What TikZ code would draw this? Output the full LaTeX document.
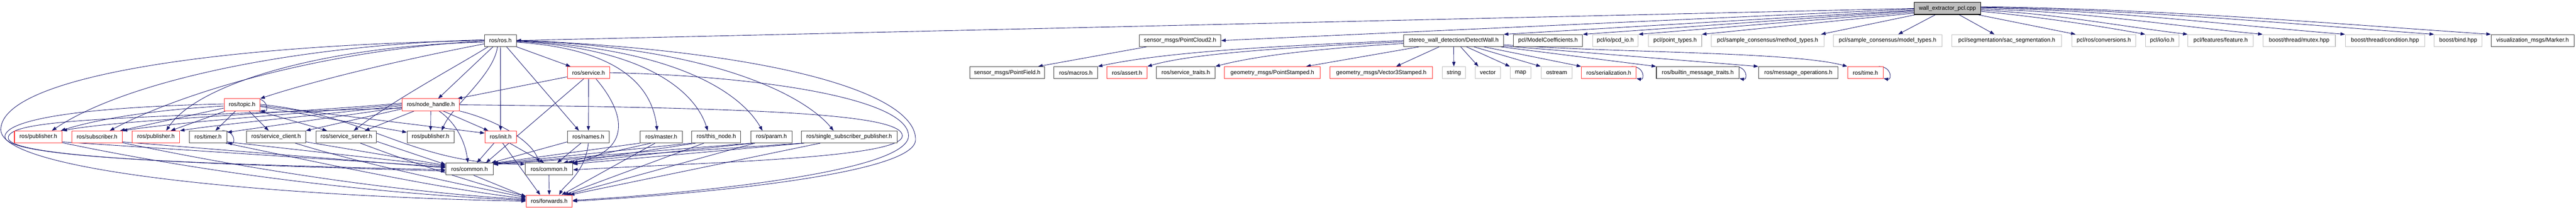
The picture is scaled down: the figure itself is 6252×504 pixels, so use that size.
\documentclass[tikz,border=0pt]{standalone}
\usepackage{fontspec}
\setmainfont{Liberation Sans}
\usetikzlibrary{arrows.meta}
\definecolor{edgec}{HTML}{191970}
\definecolor{redc}{HTML}{FF3030}
\definecolor{darkc}{HTML}{404040}
\definecolor{greyc}{HTML}{BFBFBF}
\definecolor{rootfill}{HTML}{BFBFBF}
\pgfdeclarelayer{background}
\pgfsetlayers{background,main}
\begin{document}
\begin{tikzpicture}[x=1pt,y=1pt,
  box/.style={draw, line width=1.3pt, fill=white, minimum height=29pt, inner xsep=2pt, inner ysep=0pt, font=\fontsize{14pt}{16pt}\selectfont, anchor=center},
  rb/.style={box, draw=redc},
  kb/.style={box, draw=darkc},
  gb/.style={box, draw=greyc},
  rootb/.style={box, draw=black, fill=rootfill},
  e/.style={draw=edgec, line width=1.1pt, -{Triangle[length=11pt,width=8pt]}}]
\useasboundingbox (0,0) rectangle (6252,-504);
% ---------- row 1
\node[rootb, minimum width=161pt] (W) at (4726.5,-20.5) {wall\_extractor\_pcl.cpp};
% ---------- row 2
\node[kb, minimum width=77pt]  (R)      at (1214.5,-98.5) {ros/ros.h};
\node[kb, minimum width=198pt] (pc2)    at (2864,-98.5)   {sensor\_msgs/PointCloud2.h};
\node[kb, minimum width=242pt] (dw)     at (3528,-98.5)   {stereo\_wall\_detection/DetectWall.h};
\node[kb, minimum width=168pt] (mc)     at (3757,-98.5)   {pcl/ModelCoefficients.h};
\node[gb, minimum width=111pt] (pcd)    at (3920.5,-98.5) {pcl/io/pcd\_io.h};
\node[gb, minimum width=129pt] (pt)     at (4065.5,-98.5) {pcl/point\_types.h};
\node[gb, minimum width=274pt] (mt)     at (4290,-98.5)   {pcl/sample\_consensus/method\_types.h};
\node[gb, minimum width=264pt] (modt)   at (4581,-98.5)   {pcl/sample\_consensus/model\_types.h};
\node[gb, minimum width=267pt] (sac)    at (4870.5,-98.5) {pcl/segmentation/sac\_segmentation.h};
\node[gb, minimum width=156pt] (conv)   at (5106,-98.5)   {pcl/ros/conversions.h};
\node[gb, minimum width=81pt]  (io)     at (5247.5,-98.5) {pcl/io/io.h};
\node[gb, minimum width=159pt] (feat)   at (5389.5,-98.5) {pcl/features/feature.h};
\node[gb, minimum width=176pt] (mutex)  at (5580,-98.5)   {boost/thread/mutex.hpp};
\node[gb, minimum width=193pt] (cond)   at (5788.5,-98.5) {boost/thread/condition.hpp};
\node[gb, minimum width=116pt] (bind)   at (5966,-98.5)   {boost/bind.hpp};
\node[kb, minimum width=201pt] (marker) at (6146.5,-98.5) {visualization\_msgs/Marker.h};
% ---------- row 3
\node[rb, minimum width=103pt] (svc)     at (1428.5,-176.5) {ros/service.h};
\node[kb, minimum width=181pt] (pf)      at (2444.5,-176.5) {sensor\_msgs/PointField.h};
\node[kb, minimum width=106pt] (macros)  at (2611,-176.5)   {ros/macros.h};
\node[rb, minimum width=97pt]  (assert)  at (2735.5,-176.5) {ros/assert.h};
\node[kb, minimum width=142pt] (straits) at (2878,-176.5)   {ros/service\_traits.h};
\node[rb, minimum width=232pt] (pst)     at (3088,-176.5)   {geometry\_msgs/PointStamped.h};
\node[rb, minimum width=249pt] (v3s)     at (3352.5,-176.5) {geometry\_msgs/Vector3Stamped.h};
\node[gb, minimum width=57pt]  (string)  at (3528.5,-176.5) {string};
\node[gb, minimum width=62pt]  (vector)  at (3611,-176.5)   {vector};
\node[gb, minimum width=51pt]  (map)     at (3690.5,-176.5) {map};
\node[gb, minimum width=76pt]  (ostream) at (3778,-176.5)   {ostream};
\node[rb, minimum width=133pt] (ser)     at (3904.5,-176.5) {ros/serialization.h};
\node[kb, minimum width=201pt] (bmt)     at (4120.5,-176.5) {ros/builtin\_message\_traits.h};
\node[kb, minimum width=193pt] (mops)    at (4364.5,-176.5) {ros/message\_operations.h};
\node[rb, minimum width=87pt]  (time)    at (4527.5,-176.5) {ros/time.h};
% ---------- row 4
\node[rb, minimum width=87pt]  (topic) at (587.5,-254.5)  {ros/topic.h};
\node[rb, minimum width=139pt] (nh)    at (1045.5,-254.5) {ros/node\_handle.h};
% ---------- row 5
\node[rb, minimum width=116pt] (pub1)     at (93,-332.5)     {ros/publisher.h};
\node[rb, minimum width=123pt] (sub)      at (235.5,-332.5)  {ros/subscriber.h};
\node[rb, minimum width=115pt] (pub2)     at (378.5,-332.5)  {ros/publisher.h};
\node[kb, minimum width=92pt]  (timer)    at (505,-332.5)    {ros/timer.h};
\node[kb, minimum width=144pt] (sc)       at (670,-332.5)    {ros/service\_client.h};
\node[kb, minimum width=147pt] (ss)       at (840.5,-332.5)  {ros/service\_server.h};
\node[kb, minimum width=114pt] (pub3)     at (1045,-332.5)   {ros/publisher.h};
\node[rb, minimum width=76pt]  (init)     at (1215,-332.5)   {ros/init.h};
\node[kb, minimum width=102pt] (names)    at (1428,-332.5)   {ros/names.h};
\node[kb, minimum width=102pt] (master)   at (1605,-332.5)   {ros/master.h};
\node[kb, minimum width=119pt] (thisnode) at (1738.5,-332.5) {ros/this\_node.h};
\node[kb, minimum width=99pt]  (param)    at (1872.5,-332.5) {ros/param.h};
\node[kb, minimum width=232pt] (ssp)      at (2061,-332.5)   {ros/single\_subscriber\_publisher.h};
% ---------- row 6 / 7
\node[kb, minimum width=115pt] (com1) at (1139.5,-410.5) {ros/common.h};
\node[kb, minimum width=115pt] (com2) at (1332.5,-410.5) {ros/common.h};
\node[rb, minimum width=112pt] (fwd)  at (1333,-488.5)   {ros/forwards.h};

\begin{pgfonlayer}{background}
\fill[white] (0,0) rectangle (6252,-504);
% ---------- root
\draw[e] (W.west) -- (R.east);
\draw[e] (W.181) -- (pc2.east);
\draw[e] (W.183) -- (dw.north east);
\draw[e] (W.184) -- (mc.north east);
\draw[e] (W.186) -- (pcd.north east);
\draw[e] (W.188) -- (pt.north east);
\draw[e] ([xshift=4pt]W.south west) -- ([xshift=-8pt]mt.north east);
\draw[e] ([xshift=-29pt]W.south) -- ([xshift=26pt]modt.north);
\draw[e] ([xshift=28pt]W.south) -- ([xshift=-30pt]sac.north);
\draw[e] ([xshift=-8pt]W.south east) -- ([xshift=10pt]conv.north west);
\draw[e] (W.-5) .. controls +(130,-12) and +(-120,22) .. (io.north west);
\draw[e] (W.-3) .. controls +(180,-8) and +(-180,22) .. (feat.north west);
\draw[e] (W.-1) .. controls +(250,-6) and +(-250,24) .. (mutex.north west);
\draw[e] (W.1) .. controls +(320,-6) and +(-320,26) .. (cond.north west);
\draw[e] (W.2) .. controls +(380,-6) and +(-380,28) .. (bind.north west);
\draw[e] (W.3) .. controls +(440,-6) and +(-440,30) .. (marker.north west);
% ---------- PointCloud2 / DetectWall
\draw[e] ([xshift=-81pt]pc2.south) -- ([xshift=75pt]pf.north);
\draw[e] (dw.west) .. controls (3150,-110) and (2850,-122) .. (macros.north east);
\draw[e] ([yshift=-3pt]dw.west) .. controls (3150,-114) and (2900,-128) .. (assert.north east);
\draw[e] ([yshift=-7pt]dw.west) .. controls (3200,-118) and (3050,-135) .. (straits.north east);
\draw[e] ([xshift=38pt]dw.south west) -- ([xshift=82pt]pst.north);
\draw[e] ([xshift=-35pt]dw.south) -- ([xshift=36pt]v3s.north);
\draw[e] (dw.south) -- (string.north);
\draw[e] ([xshift=17pt]dw.south) -- ([xshift=-23pt]vector.north);
\draw[e] ([xshift=31pt]dw.south) -- (map.north west);
\draw[e] ([xshift=49pt]dw.south) -- (ostream.north west);
\draw[e] ([xshift=73pt]dw.south) -- (ser.north west);
\draw[e] ([xshift=-8pt]dw.south east) -- (bmt.north west);
\draw[e] ([yshift=2pt]dw.south east) -- (mops.north west);
\draw[e] ([yshift=5pt]dw.south east) .. controls (3900,-128) and (4350,-125) .. (time.north west);
% self loops
\draw[e] ([xshift=-12pt]ser.north east) .. controls +(32,0) and +(20,-4) .. ([yshift=1pt]ser.south east);
\draw[e] ([xshift=-12pt]bmt.north east) .. controls +(32,0) and +(20,-4) .. ([yshift=1pt]bmt.south east);
\draw[e] ([xshift=-12pt]time.north east) .. controls +(32,0) and +(20,-4) .. ([yshift=1pt]time.south east);
\draw[e] ([xshift=-12pt]topic.north east) .. controls +(32,0) and +(20,-4) .. ([yshift=1pt]topic.south east);
\draw[e] ([xshift=-12pt]timer.north east) .. controls +(32,0) and +(20,-4) .. ([yshift=1pt]timer.south east);
% ---------- ros/ros.h
\draw[e] (R.west) .. controls (500,-110) and (2,-190) .. (2,-315) .. controls (2,-420) and (700,-478) .. (fwd.west);
\draw[e] ([yshift=2pt]R.west) .. controls (700,-110) and (300,-200) .. ([xshift=33pt]pub1.north);
\draw[e] ([yshift=-1pt]R.west) .. controls (800,-120) and (450,-220) .. ([xshift=31pt]sub.north);
\draw[e] ([yshift=-4pt]R.west) .. controls (800,-110) and (480,-200) .. ([xshift=25pt]pub2.north);
\draw[e] ([yshift=-8pt]R.west) .. controls (950,-150) and (750,-200) .. (topic.north east);
\draw[e] ([xshift=-30pt]R.south) .. controls (1110,-160) and (960,-240) .. ([xshift=18pt]ss.north);
\draw[e] ([xshift=-18pt]R.south) -- ([xshift=18pt]nh.north);
\draw[e] ([xshift=-7pt]R.south) .. controls +(-10,-70) and +(25,60) .. ([xshift=27pt]pub3.north);
\draw[e] (R.south) -- (init.north);
\draw[e] ([xshift=15pt]R.south) -- ([xshift=-23pt]names.north);
\draw[e] (R.south east) -- ([xshift=-44pt]svc.north);
\draw[e] ([yshift=-4pt]R.east) .. controls (1530,-120) and (1585,-230) .. ([xshift=-10pt]master.north);
\draw[e] ([yshift=-2pt]R.east) .. controls (1580,-118) and (1690,-230) .. ([xshift=-21pt]thisnode.north);
\draw[e] ([yshift=-1pt]R.east) .. controls (1650,-118) and (1800,-230) .. ([xshift=-22pt]param.north);
\draw[e] (R.east) .. controls (1750,-115) and (1960,-240) .. ([xshift=-38pt]ssp.north);
\draw[e] ([yshift=1pt]R.east) .. controls (1900,-125) and (2225,-230) .. (2222,-340) .. controls (2220,-430) and (1600,-478) .. (fwd.east);
% ---------- ros/service.h
\draw[e] ([yshift=5pt]svc.south west) -- ([xshift=65pt]nh.north);
\draw[e] ([xshift=-12pt]svc.south) -- ([xshift=40pt]com1.north);
\draw[e] (svc.south) -- (names.north);
\draw[e] ([xshift=18pt]svc.south) .. controls (1530,-290) and (1520,-370) .. (com2.north east);
\draw[e] (svc.east) .. controls (1850,-185) and (2205,-240) .. (2205,-330) .. controls (2205,-420) and (1650,-472) .. ([yshift=2pt]fwd.east);
% ---------- ros/node_handle.h
\draw[e] ([yshift=4pt]nh.west) .. controls (700,-275) and (300,-290) .. (pub1.north east);
\draw[e] ([yshift=1pt]nh.west) .. controls (700,-278) and (450,-295) .. (sub.north east);
\draw[e] ([yshift=-2pt]nh.west) .. controls (750,-282) and (550,-300) .. (pub2.north east);
\draw[e] ([yshift=-6pt]nh.west) -- ([yshift=-4pt]timer.north east);
\draw[e] ([yshift=-10pt]nh.west) -- (sc.north east);
\draw[e] ([xshift=30pt]nh.south west) -- ([xshift=45pt]ss.north);
\draw[e] (nh.south) -- (pub3.north);
\draw[e] ([xshift=30pt]nh.south) -- ([xshift=-30pt]init.north);
\draw[e] ([xshift=20pt]nh.south) .. controls (1110,-300) and (1130,-350) .. ([xshift=-4pt]com1.north);
\draw[e] (nh.south east) .. controls (1200,-290) and (1290,-340) .. ([xshift=-24pt]com2.north);
\draw[e] (nh.east) .. controls (1900,-262) and (2190,-280) .. (2190,-330) .. controls (2190,-385) and (1700,-395) .. ([yshift=-2pt]com2.east);
\draw[e] ([yshift=-8pt]nh.west) .. controls (250,-285) and (20,-292) .. (20,-335) .. controls (20,-385) and (550,-400) .. ([yshift=-5pt]com1.west);
% ---------- ros/topic.h
\draw[e] ([yshift=-3pt]topic.west) .. controls (400,-265) and (250,-285) .. ([xshift=-4pt]pub1.north east);
\draw[e] ([yshift=-8pt]topic.west) -- ([xshift=-6pt]sub.north east);
\draw[e] ([xshift=4pt]topic.south west) -- ([xshift=36pt]pub2.north);
\draw[e] ([xshift=-16pt]topic.south) -- ([xshift=18pt]timer.north);
\draw[e] ([xshift=17pt]topic.south) -- ([xshift=-18pt]sc.north);
\draw[e] ([xshift=-4pt]topic.south east) -- ([xshift=-47pt]ss.north);
\draw[e] ([yshift=-4pt]topic.east) -- ([yshift=-4pt]pub3.north west);
\draw[e] ([yshift=-2pt]topic.east) -- ([yshift=-6pt]init.north west);
\draw[e] ([yshift=1pt]topic.east) .. controls (900,-280) and (1000,-400) .. ([yshift=-3pt]com2.north west);
\draw[e] ([yshift=2pt]topic.west) .. controls (200,-260) and (12,-290) .. (12,-332) .. controls (12,-385) and (500,-398) .. ([yshift=-2pt]com1.west);
% ---------- row 5 -> common / forwards
\draw[e] ([yshift=3pt]pub1.south east) -- ([yshift=5pt]com1.west);
\draw[e] ([yshift=1pt]pub1.south east) .. controls (500,-420) and (900,-470) .. ([yshift=2pt]fwd.west);
\draw[e] ([yshift=3pt]sub.south east) -- ([yshift=3pt]com1.west);
\draw[e] ([yshift=1pt]sub.south east) .. controls (600,-410) and (950,-465) .. ([yshift=4pt]fwd.west);
\draw[e] ([yshift=3pt]timer.south east) -- ([yshift=7pt]com1.west);
\draw[e] ([xshift=-4pt]timer.south east) .. controls (800,-400) and (1050,-455) .. ([yshift=6pt]fwd.west);
\draw[e] ([yshift=3pt]sc.south east) -- ([yshift=9pt]com1.west);
\draw[e] ([xshift=-26pt]sc.south east) .. controls (850,-390) and (1100,-445) .. ([yshift=9pt]fwd.west);
\draw[e] ([yshift=4pt]ss.south east) -- ([yshift=11pt]com1.west);
\draw[e] ([xshift=-40pt]ss.south east) .. controls (1000,-395) and (1150,-445) .. ([yshift=12pt]fwd.west);
\draw[e] ([xshift=-16pt]init.south) -- ([xshift=18pt]com1.north);
\draw[e] ([xshift=22pt]init.south) -- ([xshift=-12pt]com2.north);
\draw[e] ([xshift=5pt]init.south) -- ([xshift=-22pt]fwd.north);
\draw[e] ([yshift=3pt]names.south west) -- ([xshift=-5pt]com1.north east);
\draw[e] ([xshift=-18pt]names.south) -- ([xshift=20pt]com2.north);
\draw[e] (names.south) .. controls (1420,-420) and (1370,-450) .. ([xshift=24pt]fwd.north);
\draw[e] (master.south west) -- ([yshift=-1pt]com1.north east);
\draw[e] ([xshift=-25pt]master.south) -- ([xshift=35pt]com2.north);
\draw[e] ([xshift=-15pt]master.south) -- ([xshift=30pt]fwd.north);
\draw[e] (thisnode.south west) -- ([yshift=-2pt]com1.north east);
\draw[e] ([xshift=-50pt]thisnode.south) -- ([xshift=45pt]com2.north);
\draw[e] ([xshift=-30pt]thisnode.south) -- ([xshift=36pt]fwd.north);
\draw[e] ([xshift=3pt]param.south west) -- ([yshift=-3pt]com1.north east);
\draw[e] ([xshift=6pt]param.south west) -- ([xshift=50pt]com2.north);
\draw[e] ([xshift=10pt]param.south west) -- ([xshift=42pt]fwd.north);
\draw[e] ([xshift=3pt]ssp.south west) -- ([yshift=-4pt]com1.north east);
\draw[e] ([xshift=8pt]ssp.south west) -- ([yshift=-3pt]com2.north east);
\draw[e] ([xshift=-70pt]ssp.south) -- ([xshift=50pt]fwd.north);
\draw[e] ([xshift=10pt]com1.south) -- ([yshift=11pt]fwd.west);
\draw[e] (com2.south) -- (fwd.north);
\end{pgfonlayer}
\end{tikzpicture}
\end{document}
